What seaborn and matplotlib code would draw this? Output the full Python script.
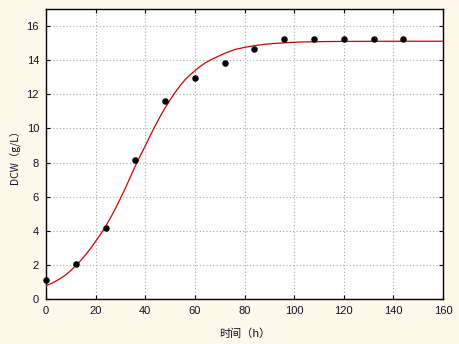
import matplotlib
matplotlib.use("Agg")
import matplotlib.pyplot as plt
import seaborn as sns
import pandas as pd

# measured points
time_h = [0, 12, 24, 36, 48, 60, 72, 84, 96, 108, 120, 132, 144]
dcw = [1.09, 2.03, 4.14, 8.13, 11.6, 12.94, 13.81, 14.64, 15.22, 15.22, 15.22, 15.22, 15.22]

# fitted curve
curve_t = [0, 2, 4, 6, 8, 10, 12, 14, 16, 18, 20, 22, 24, 26, 28, 30, 32, 34, 36, 38,
           40, 42, 44, 46, 48, 50, 52, 54, 56, 58, 60, 62, 64, 66, 68, 72,
           76, 80, 84, 88, 92, 96, 100, 104, 112, 120, 140, 160]
curve_y = [0.78, 0.9, 1.05, 1.22, 1.42, 1.67, 1.95, 2.26, 2.6, 2.97, 3.38, 3.8, 4.25,
           4.76, 5.3, 5.9, 6.5, 7.15, 7.8, 8.4, 8.97, 9.58, 10.15, 10.7, 11.2, 11.67,
           12.1, 12.5, 12.85, 13.13, 13.38, 13.62, 13.82, 13.99, 14.13, 14.4,
           14.62, 14.75, 14.85, 14.93, 14.98, 15.02, 15.05, 15.07, 15.09, 15.1, 15.11, 15.11]

xticks = [0, 20, 40, 60, 80, 100, 120, 140, 160]
yticks = [0, 2, 4, 6, 8, 10, 12, 14, 16]

sns.set_style("white")
plt.rcParams['font.family'] = ['Liberation Sans', 'Noto Sans CJK SC', 'DejaVu Sans']

bg = '#FFF9EC'
fig = plt.figure(figsize=(4.59, 3.44), dpi=100, facecolor=bg)
ax = fig.add_axes([46/459, 45/344, 397/459, 290/344])
ax.set_facecolor('white')

pts = pd.DataFrame({'t': time_h, 'y': dcw})
cur = pd.DataFrame({'t': curve_t, 'y': curve_y})

sns.lineplot(data=cur, x='t', y='y', ax=ax, color='#D40000', linewidth=0.9, zorder=3)
sns.scatterplot(data=pts, x='t', y='y', ax=ax, color='black', s=22, edgecolor='black',
                linewidth=0, zorder=4, clip_on=False)

ax.set_xlim(0, 160)
ax.set_ylim(0, 17)
ax.set_xticks(xticks)
ax.set_yticks(yticks)
ax.grid(True, linestyle=(0, (1, 2)), color='#A8A8A8', linewidth=0.8)
for s in ax.spines.values():
    s.set_color('black')
    s.set_linewidth(1.0)
    s.set_visible(True)
ax.tick_params(direction='in', length=3, width=0.8, colors='black',
               top=True, right=True, bottom=True, left=True,
               labelsize=8, labelcolor='#101028', pad=5)

ax.set_xlabel('时间（h）', fontsize=8, family=['Noto Sans CJK SC', 'DejaVu Sans'],
              labelpad=9, color='#101028')
ax.set_ylabel('DCW（g/L）', fontsize=7.5, family=['Noto Sans CJK SC', 'DejaVu Sans'],
              labelpad=4, color='#101028')

fig.savefig('out.png', dpi=100, facecolor=bg)
